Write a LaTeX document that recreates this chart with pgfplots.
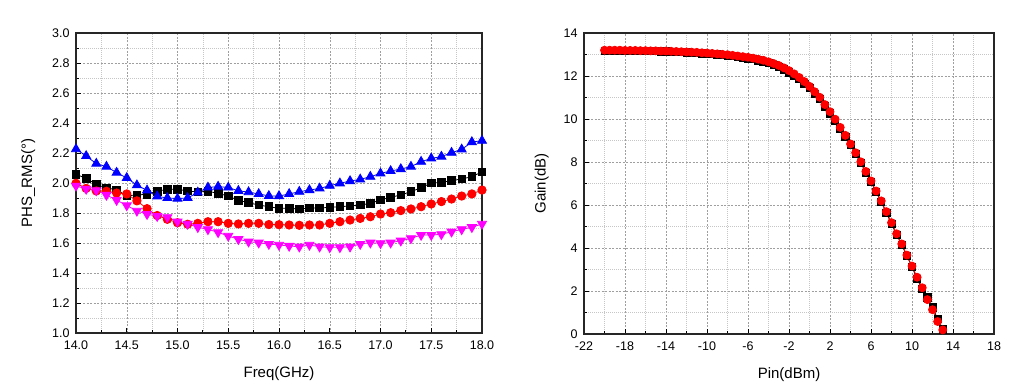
\documentclass[border=0pt]{standalone}
\usepackage{fontspec}
\setmainfont{Liberation Sans}
\usepackage{pgfplots}
\usepackage{pgfplotstable}
\pgfplotsset{compat=1.18}
\definecolor{mag}{RGB}{255,0,255}
\definecolor{rd}{RGB}{255,0,0}
\definecolor{bl}{RGB}{0,0,255}

\pgfplotstableread{
x black red blue magenta
14.0 2.058 1.998 2.226 1.981
14.1 2.031 1.964 2.180 1.960
14.2 1.991 1.947 2.129 1.950
14.3 1.967 1.945 2.109 1.920
14.4 1.955 1.933 2.069 1.886
14.5 1.915 1.927 2.034 1.850
14.6 1.920 1.881 1.985 1.814
14.7 1.925 1.829 1.951 1.792
14.8 1.945 1.783 1.911 1.779
14.9 1.958 1.758 1.900 1.771
15.0 1.958 1.735 1.896 1.742
15.1 1.947 1.725 1.900 1.727
15.2 1.940 1.731 1.937 1.705
15.3 1.945 1.742 1.970 1.691
15.4 1.931 1.742 1.976 1.671
15.5 1.913 1.731 1.970 1.647
15.6 1.885 1.727 1.948 1.625
15.7 1.869 1.731 1.939 1.609
15.8 1.853 1.731 1.927 1.602
15.9 1.842 1.723 1.914 1.593
16.0 1.831 1.722 1.913 1.587
16.1 1.831 1.720 1.927 1.580
16.2 1.827 1.718 1.942 1.575
16.3 1.833 1.720 1.953 1.587
16.4 1.833 1.720 1.964 1.575
16.5 1.838 1.731 1.982 1.571
16.6 1.842 1.742 1.998 1.571
16.7 1.847 1.753 2.013 1.575
16.8 1.853 1.764 2.024 1.593
16.9 1.864 1.775 2.042 1.602
17.0 1.887 1.793 2.064 1.598
17.1 1.905 1.802 2.080 1.602
17.2 1.920 1.816 2.093 1.615
17.3 1.942 1.827 2.109 1.631
17.4 1.969 1.842 2.142 1.653
17.5 2.000 1.860 2.164 1.653
17.6 2.004 1.876 2.176 1.658
17.7 2.016 1.893 2.202 1.675
17.8 2.027 1.913 2.224 1.691
17.9 2.042 1.927 2.273 1.705
18.0 2.075 1.953 2.282 1.727
}\phsdata

\pgfplotstableread{
pin black red
-20 13.18 13.20
-19.5 13.18 13.20
-19 13.18 13.20
-18.5 13.18 13.20
-18 13.17 13.19
-17.5 13.17 13.19
-17 13.17 13.19
-16.5 13.16 13.18
-16 13.16 13.18
-15.5 13.15 13.17
-15 13.15 13.17
-14.5 13.14 13.16
-14 13.14 13.16
-13.5 13.13 13.15
-13 13.12 13.14
-12.5 13.11 13.13
-12 13.10 13.12
-11.5 13.09 13.11
-11 13.07 13.10
-10.5 13.05 13.08
-10 13.04 13.07
-9.5 13.02 13.05
-9 13.00 13.03
-8.5 12.97 13.01
-8 12.95 12.99
-7.5 12.92 12.96
-7 12.89 12.93
-6.5 12.86 12.90
-6 12.82 12.87
-5.5 12.78 12.83
-5 12.73 12.78
-4.5 12.67 12.73
-4 12.60 12.66
-3.5 12.52 12.58
-3 12.42 12.49
-2.5 12.31 12.38
-2 12.17 12.25
-1.5 12.02 12.10
-1 11.85 11.93
-0.5 11.65 11.74
0 11.43 11.52
0.5 11.18 11.27
1.0 10.92 11.01
1.5 10.59 10.67
2.0 10.26 10.34
2.5 9.91 9.99
3.0 9.54 9.61
3.5 9.17 9.24
4.0 8.78 8.84
4.5 8.37 8.43
5.0 7.95 8.01
5.5 7.50 7.56
6.0 7.07 7.12
6.5 6.60 6.65
7.0 6.14 6.19
7.5 5.64 5.69
8.0 5.12 5.18
8.5 4.62 4.66
9.0 4.14 4.19
9.5 3.63 3.67
10.0 3.12 3.16
10.5 2.55 2.64
11.0 2.08 2.15
11.5 1.70 1.60
12.0 1.24 1.13
12.5 0.70 0.58
13.0 0.21 0.19
}\gaindata

\begin{document}
\begin{tikzpicture}
\path[use as bounding box] (0pt,0pt) rectangle (1020pt,391pt);
\pgfplotsset{
  myax/.style={
    scale only axis,
    anchor=south west,
    axis line style={black!85, line width=1.2pt},
    tick align=inside,
    xtick pos=bottom, ytick pos=left,
    major tick length=5pt, minor tick length=3pt,
    tick style={black, line width=0.8pt},
    grid=both,
    major grid style={gray!75, line width=0.5pt, dash pattern=on 2pt off 1.5pt},
    minor grid style={gray!45, line width=0.5pt, dash pattern=on 1pt off 1pt},
    tick label style={font=\fontsize{12.5}{14}\selectfont},
    xticklabel style={yshift=-4pt},
    yticklabel style={xshift=-3pt},
    label style={font=\fontsize{15}{17}\selectfont},
    xlabel style={yshift=-10pt},
    /pgf/number format/assume math mode=true,
    clip=false,
  }
}
\begin{axis}[myax,
  at={(76pt,58pt)}, width=406pt, height=300pt,
  xmin=14, xmax=18, ymin=1, ymax=3,
  xtick={14,14.5,15,15.5,16,16.5,17,17.5,18},
  ytick={1,1.2,1.4,1.6,1.8,2,2.2,2.4,2.6,2.8,3},
  minor x tick num=1, minor y tick num=1,
  xticklabel style={/pgf/number format/.cd, fixed, fixed zerofill, precision=1},
  yticklabel style={/pgf/number format/.cd, fixed, fixed zerofill, precision=1},
  xlabel={Freq(GHz)}, ylabel={PHS\_RMS(°)},
  ylabel style={yshift=10pt},
]
\addplot[black, line width=0.8pt, mark=square*, mark size=3.8pt] table[x=x, y=black] {\phsdata};
\addplot[rd, line width=0.8pt, mark=*, mark size=4.2pt] table[x=x, y=red] {\phsdata};
\addplot[bl, line width=0.8pt, mark=triangle*, mark size=5.2pt] table[x=x, y=blue] {\phsdata};
\addplot[mag, line width=0.8pt, mark=triangle*, mark size=5.2pt, mark options={rotate=180}] table[x=x, y=magenta] {\phsdata};
\end{axis}

\begin{axis}[myax,
  at={(584pt,57pt)}, width=410pt, height=301pt,
  xmin=-22, xmax=18, ymin=0, ymax=14,
  xtick={-22,-18,-14,-10,-6,-2,2,6,10,14,18},
  ytick={0,2,4,6,8,10,12,14},
  minor x tick num=1, minor y tick num=1,
  xlabel={Pin(dBm)}, ylabel={Gain(dB)},
  ylabel style={yshift=8pt},
]
\addplot[black, line width=0.8pt, mark=square*, mark size=3.6pt] table[x=pin, y=black] {\gaindata};
\addplot[rd, line width=0.8pt, mark=*, mark size=4.0pt] table[x=pin, y=red] {\gaindata};
\end{axis}
\end{tikzpicture}
\end{document}
